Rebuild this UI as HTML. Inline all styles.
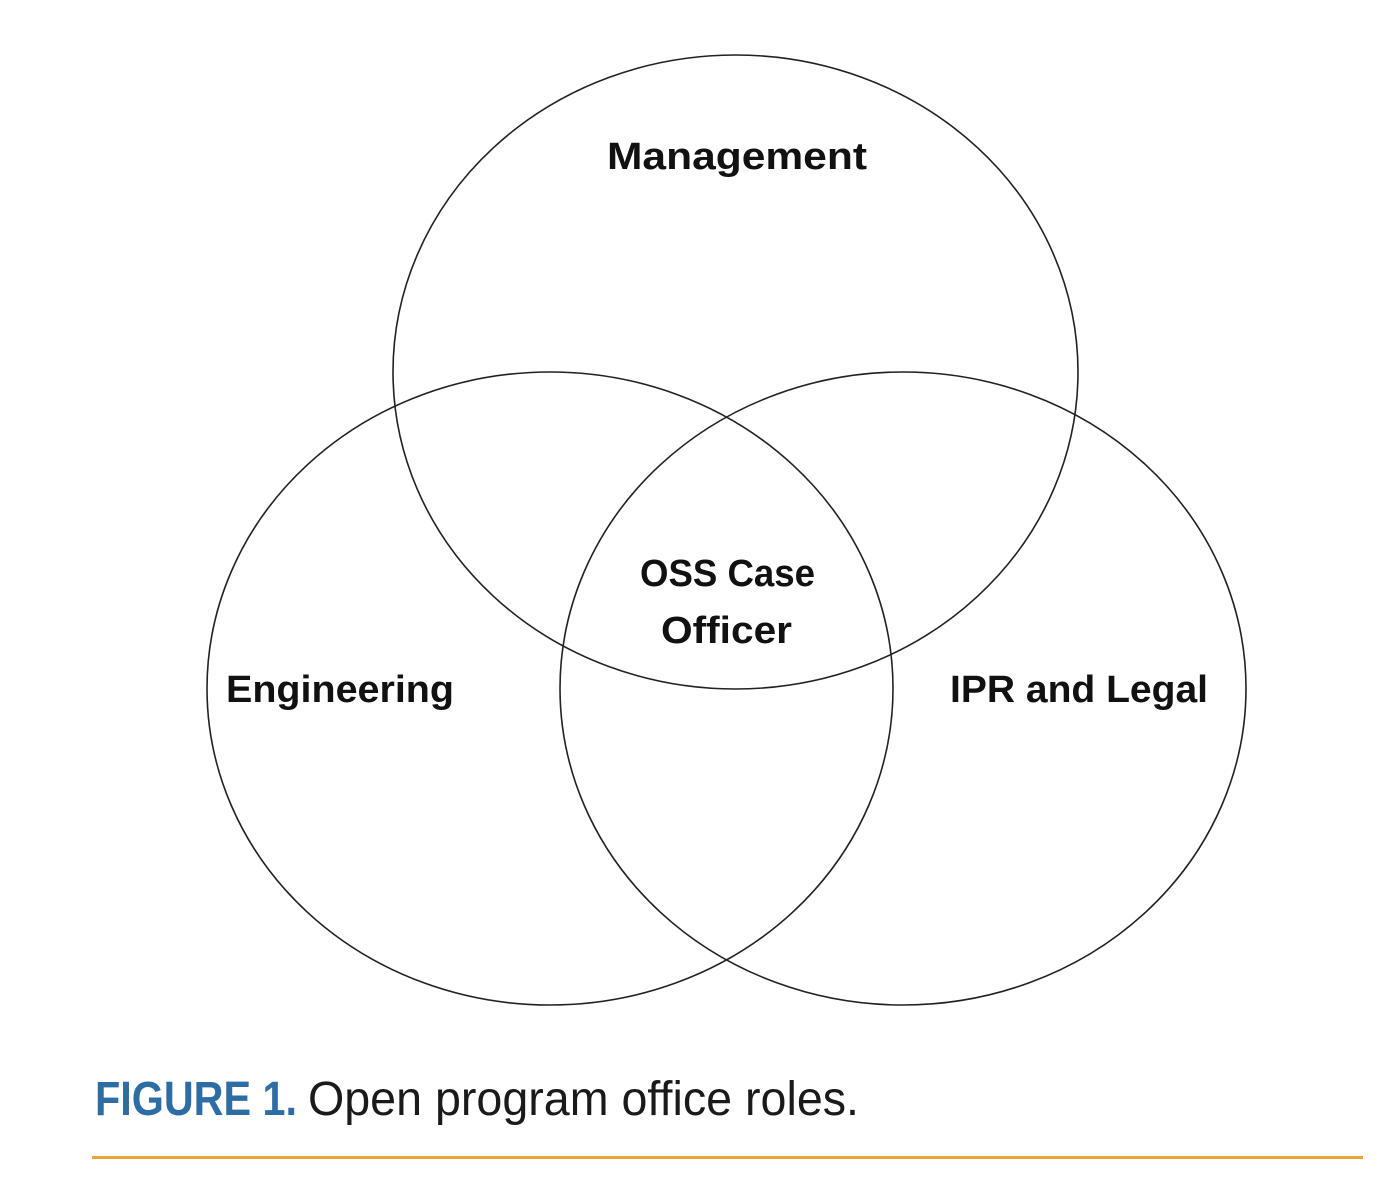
<!DOCTYPE html>
<html><head><meta charset="utf-8"><style>html,body{margin:0;padding:0;background:#fff;}</style></head>
<body>
<svg width="1386" height="1172" viewBox="0 0 1386 1172" xmlns="http://www.w3.org/2000/svg">
<rect width="1386" height="1172" fill="#fff"/>
<g fill="none" stroke="#222" stroke-width="1.6">
<ellipse cx="735.5" cy="372" rx="342.5" ry="317"/>
<ellipse cx="550" cy="688.5" rx="343" ry="316.5"/>
<ellipse cx="903" cy="688.5" rx="343" ry="316.5"/>
</g>
<g font-family="Liberation Sans, sans-serif" font-weight="bold" font-size="38" fill="#111">
<text x="607" y="169" textLength="260" lengthAdjust="spacingAndGlyphs">Management</text>
<text x="640" y="586" textLength="175" lengthAdjust="spacingAndGlyphs">OSS Case</text>
<text x="661" y="643" textLength="131" lengthAdjust="spacingAndGlyphs">Officer</text>
<text x="226" y="702" textLength="228" lengthAdjust="spacingAndGlyphs">Engineering</text>
<text x="950" y="702" textLength="258" lengthAdjust="spacingAndGlyphs">IPR and Legal</text>
</g>
<text x="95" y="1115" font-family="Liberation Sans, sans-serif" font-weight="bold" font-size="48" fill="#2e6da4" textLength="202" lengthAdjust="spacingAndGlyphs">FIGURE 1.</text>
<text x="308" y="1115" font-family="Liberation Sans, sans-serif" font-size="48" fill="#1a1a1a" textLength="551" lengthAdjust="spacingAndGlyphs">Open program office roles.</text>
<rect x="92" y="1156" width="1271" height="3" fill="#eba537"/>
</svg>
</body></html>
